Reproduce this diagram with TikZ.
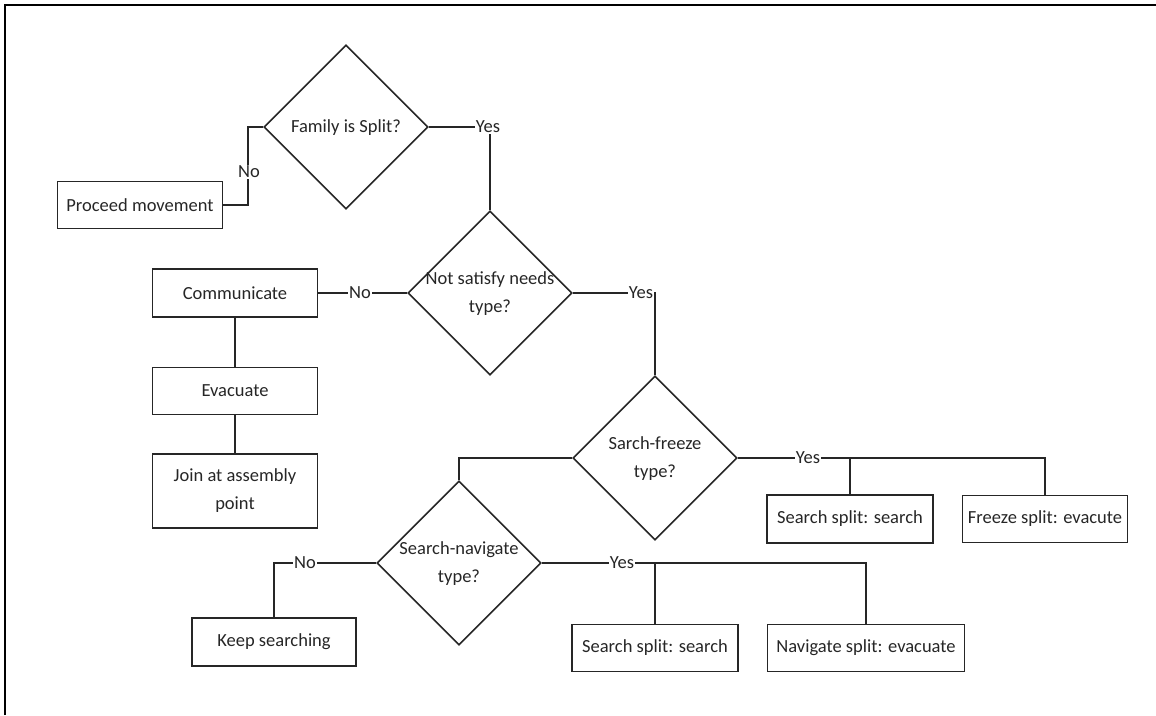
\documentclass[tikz,border=0pt]{standalone}
\usepackage{fontspec}
\setmainfont{Carlito}
\usetikzlibrary{shapes.geometric}
\newcommand\dfont{\fontsize{18.5}{28}\selectfont}
\newcommand\dtext[1]{\makebox[0pt]{\begin{tabular}{@{}c@{}}#1\end{tabular}}}
\begin{document}
\begin{tikzpicture}[x=1pt,y=-1pt,
  line/.style={draw=black!85, line width=1.5pt},
  box/.style={draw=black!85, line width=1.8pt, rectangle, minimum height=47pt,
    minimum width=165pt, inner sep=0pt, align=center, font=\dfont, text=black!85},
  dec/.style={draw=black!85, line width=1.6pt, diamond, minimum width=164pt,
    minimum height=164pt, inner sep=0pt, font=\dfont, text=black!85},
  lab/.style={fill=white, inner sep=1pt, font=\dfont, text=black!85}
]
\useasboundingbox (0,0) rectangle (1156,715);
\draw[line width=2pt, black] (5,715) -- (5,5) -- (1156,5);

% decisions
\node[dec] (d1) at (346,127) {\dtext{Family is Split?}};
\node[dec] (d2) at (490,293) {\dtext{Not satisfy needs\\type?}};
\node[dec] (d3) at (655,458) {\dtext{Sarch-freeze\\type?}};
\node[dec] (d4) at (459,563) {\dtext{Search-navigate\\type?}};

% boxes
\node[box] (pm) at (140,205) {Proceed movement};
\node[box, minimum height=48pt] (comm) at (235,293) {Communicate};
\node[box] (evac) at (235,391) {Evacuate};
\node[box, minimum height=74pt] (join) at (235,491) {Join at assembly\\point};
\node[box, minimum height=48pt, minimum width=164pt] (ks) at (274,642) {Keep searching};
\node[box, minimum height=48pt, minimum width=166pt] (ss1) at (850,519) {Search split: search};
\node[box] (fr) at (1045,519) {Freeze split: evacute};
\node[box, minimum width=166pt] (ss2) at (655,648) {Search split: search};
\node[box, minimum width=197pt] (nav) at (866,648) {Navigate split: evacuate};

% connectors
\coordinate (c1) at (248,127);
\draw[line] (d1.west) -- (c1) |- (pm.east);
\node[lab] (n1) at (249,172) {No};
\draw[line] (d1.east) -| (d2.north);
\node[lab] (y1) at (488,127) {Yes};

\draw[line] (d2.west) -- (comm.east);
\node[lab] (n2) at (360,293) {No};
\draw[line] (comm.south) -- (evac.north);
\draw[line] (evac.south) -- (join.north);
\draw[line] (d2.east) -| (d3.north);
\node[lab] (y2) at (641,293) {Yes};

\draw[line] (d3.west) -| (d4.north);
\draw[line] (d3.east) -| (fr.north);
\draw[line] (ss1.north) -- (ss1.north |- d3.east);
\node[lab] (y3) at (808,458) {Yes};

\draw[line] (d4.west) -| (ks.north);
\node[lab] (n3) at (305,563) {No};
\draw[line] (d4.east) -| (nav.north);
\draw[line] (ss2.north) -- (ss2.north |- d4.east);
\node[lab] (y4) at (622,563) {Yes};
\end{tikzpicture}
\end{document}
